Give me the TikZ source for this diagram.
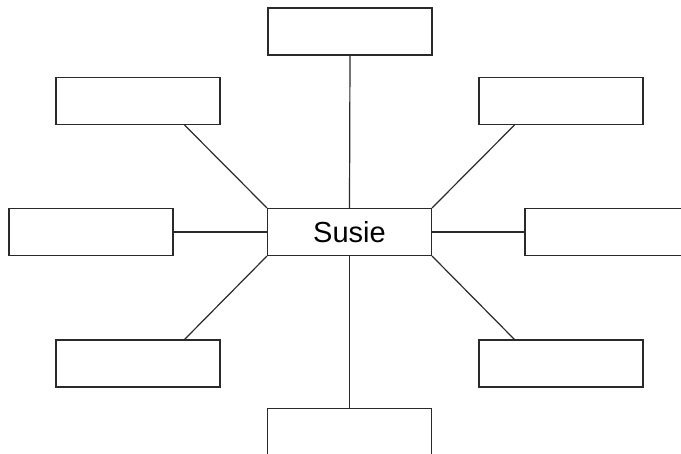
\documentclass[tikz,border=0pt]{standalone}
\usepackage{fontspec}
\setmainfont{Liberation Sans}
\usetikzlibrary{calc}
\definecolor{ink}{HTML}{2A2A2A}
\begin{document}
\begin{tikzpicture}[x=1pt,y=-1pt,
  boxnode/.style={draw=ink,line width=1.2pt,minimum width=164pt,minimum height=47pt,inner sep=0pt,fill=white},
  link/.style={draw=ink,line width=1.2pt}]
\useasboundingbox (0,0) rectangle (681,454);
\clip (0,0) rectangle (681,454);
\node[boxnode] (c) at (349.5,232) {\fontsize{29}{34}\selectfont Susie};
\node[boxnode] (t) at (350,31.5) {};
\node[boxnode] (tl) at (138,101) {};
\node[boxnode] (tr) at (561,101) {};
\node[boxnode] (l) at (91,232) {};
\node[boxnode] (r) at (607,232) {};
\node[boxnode] (bl) at (138,363.5) {};
\node[boxnode] (br) at (561,363.5) {};
\node[boxnode] (b) at (349.5,432) {};
\draw[link] (c.north) -- (t.south);
\draw[link] (c.south) -- (b.north);
\draw[link] (c.west) -- (l.east);
\draw[link] (c.east) -- (r.west);
\draw[link] (c.north west) -- ($(tl.south east)+(-36,0)$);
\draw[link] (c.north east) -- ($(tr.south west)+(36,0)$);
\draw[link] (c.south west) -- ($(bl.north east)+(-36,0)$);
\draw[link] (c.south east) -- ($(br.north west)+(36,0)$);
\end{tikzpicture}
\end{document}
